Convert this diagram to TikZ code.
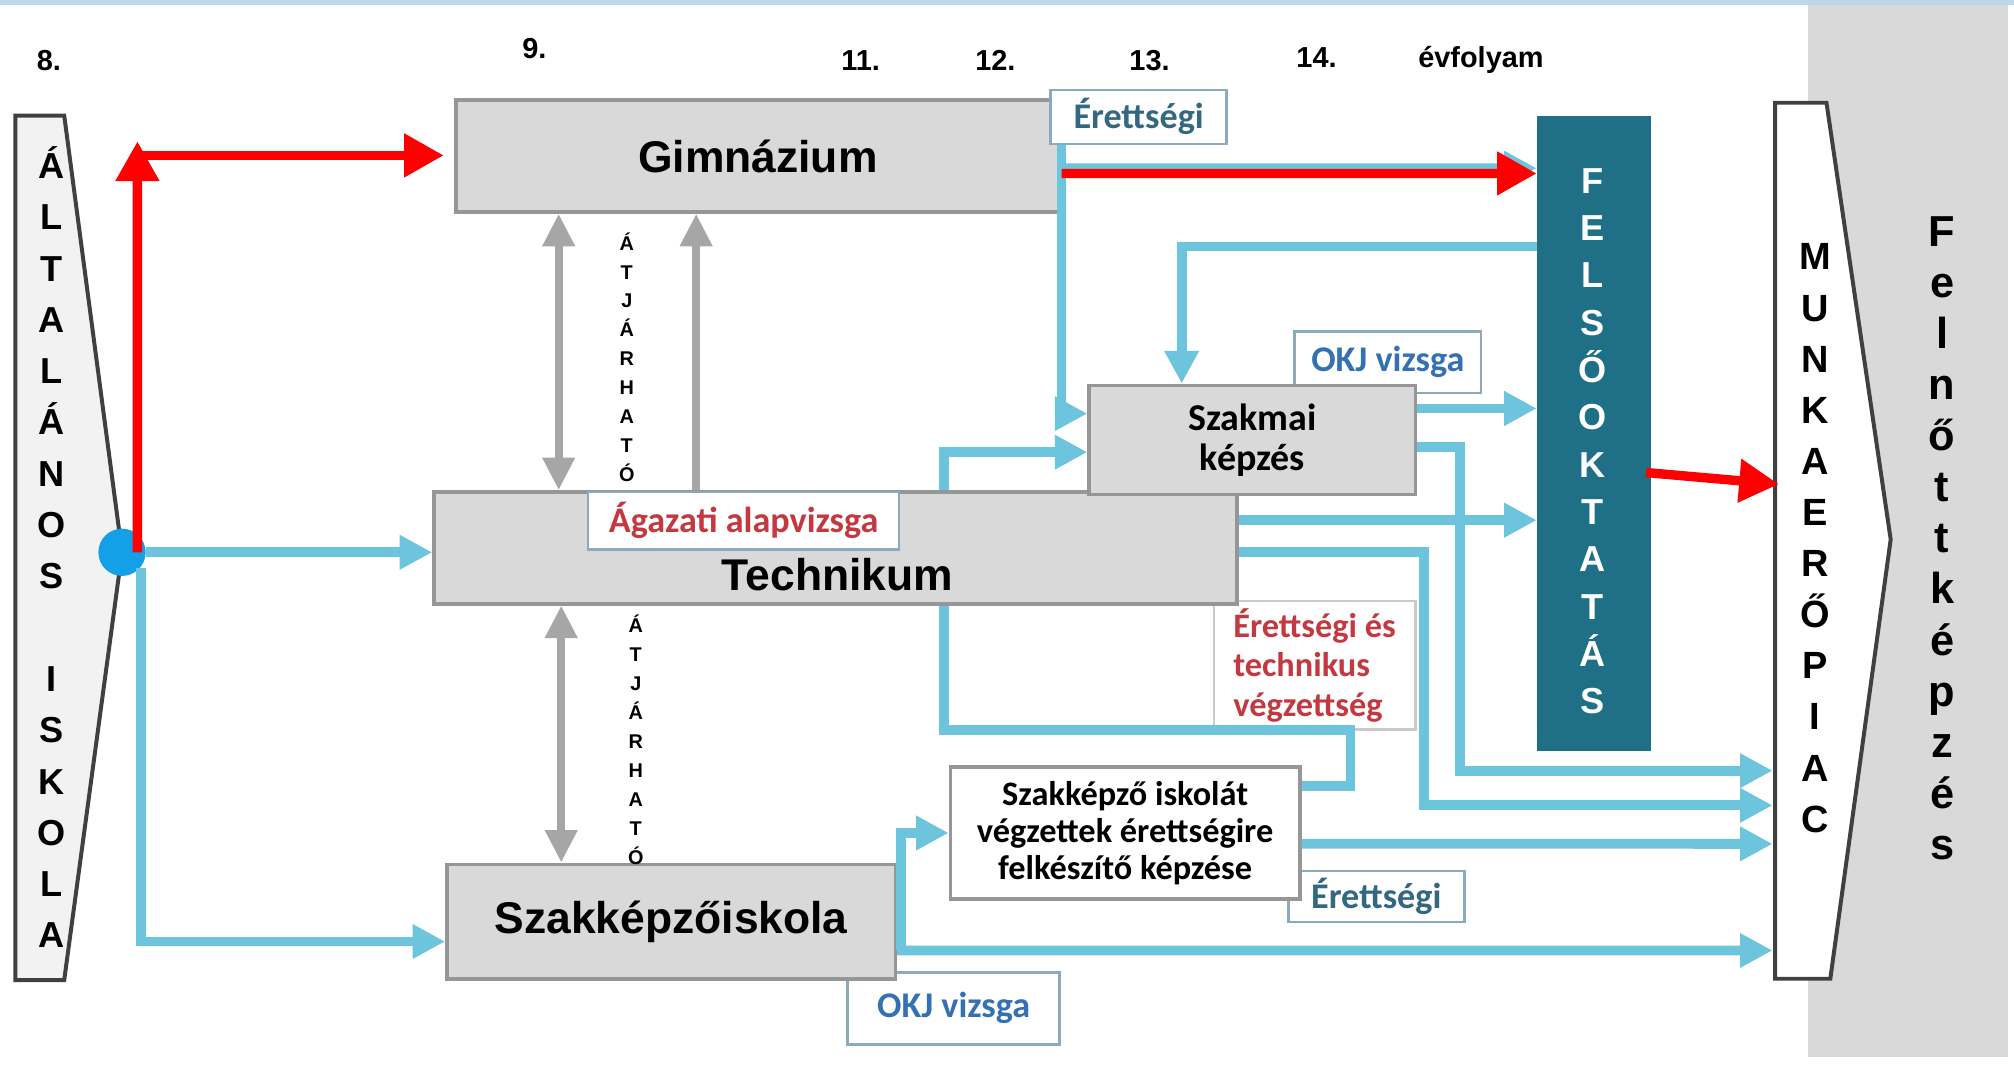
\documentclass[tikz,border=0pt]{standalone}
\usepackage{fontspec}
\setmainfont{Liberation Sans}
\newfontfamily\calib{Carlito}
\usetikzlibrary{arrows.meta}
\definecolor{flowblue}{RGB}{108,197,221}
\definecolor{boxfill}{RGB}{217,217,217}
\definecolor{boxgray}{RGB}{150,150,150}
\definecolor{felsoteal}{RGB}{31,111,134}
\definecolor{passgray}{RGB}{166,166,166}
\definecolor{tagline}{RGB}{140,170,190}
\definecolor{tagteal}{RGB}{52,104,128}
\definecolor{okjblue}{RGB}{52,112,178}
\definecolor{tagred}{RGB}{196,57,64}
\definecolor{dotblue}{RGB}{20,160,230}
\definecolor{panelgray}{RGB}{217,217,217}
\definecolor{topband}{RGB}{189,215,238}
\definecolor{leftfill}{RGB}{242,242,242}
\definecolor{edgegray}{RGB}{64,64,64}
\begin{document}
\begin{tikzpicture}[x=0.0125cm, y=-0.0125cm,
    schoolbox/.style={draw=boxgray, fill=boxfill, line width=1pt, inner sep=0pt, font=\bfseries\fontsize{12.3}{14}\selectfont},
    tagbox/.style={draw=tagline, fill=white, line width=0.7pt, inner sep=0pt, font=\calib\bfseries\fontsize{10}{12}\selectfont},
    year/.style={font=\bfseries\fontsize{8}{9}\selectfont, inner sep=0pt},
    letters/.style={align=center, inner sep=0pt, font=\bfseries\fontsize{10}{14.2}\selectfont},
    passtext/.style={align=center, inner sep=0pt, font=\bfseries\fontsize{5.5}{8}\selectfont},
    outline/.style={draw=edgegray, line width=1.1pt, line join=miter},
    flow/.style={draw=flowblue, line width=2.7pt, -{Triangle[length=9pt,width=9pt]}},
    link/.style={draw=flowblue, line width=2.7pt},
    redarrow/.style={draw=red, line width=2.6pt, -{Triangle[length=11pt,width=11.5pt]}},
    passboth/.style={draw=passgray, line width=2.2pt, {Triangle[length=9pt,width=8.5pt]}-{Triangle[length=9pt,width=8.5pt]}},
    passup/.style={draw=passgray, line width=2.2pt, -{Triangle[length=9pt,width=8.5pt]}}]
    \useasboundingbox (0,0) rectangle (1568,839);
    \fill[panelgray] (1408,4) rectangle (1563,823);
    \fill[topband] (0,0) rectangle (1568,3.6);

    \node[year] (y8) at (38,47) {8.};
    \node[year] (y9) at (416,38) {9.};
    \node[year] (y11) at (670,47) {11.};
    \node[year] (y12) at (775,47) {12.};
    \node[year] (y13) at (895,47) {13.};
    \node[year] (y14) at (1025,45) {14.};
    \node[year] (yev) at (1153,47) {évfolyam};

    \draw[outline, fill=leftfill] (12,90) -- (50,90) -- (95,430) -- (50,763) -- (12,763) -- cycle;
    \node[letters] (altisk) at (40,426) {Á\\L\\T\\A\\L\\Á\\N\\O\\S\\[14.2pt]I\\S\\K\\O\\L\\A};
    \draw[outline, fill=white] (1382,80) -- (1422,80) -- (1472,420) -- (1425,762) -- (1382,762) -- cycle;
    \node[letters, font=\bfseries\fontsize{10.5}{14.15}\selectfont] (munkatext) at (1413,419) {M\\U\\N\\K\\A\\E\\R\\Ő\\P\\I\\A\\C};
    \node[letters, font=\bfseries\fontsize{12}{14.15}\selectfont] (felnott) at (1512,419) {F\\e\\l\\n\\ő\\t\\t\\k\\é\\p\\z\\é\\s};
    \coordinate (mp0) at (1385,377);
    \coordinate (mp1) at (1380,600);
    \coordinate (mp2) at (1380,627);
    \coordinate (mp3) at (1380,657);
    \coordinate (mp4) at (1380,740);

    \node[tagbox, text=okjblue, minimum width=1.8125cm, minimum height=0.6cm] (okj1) at (1080.5,282) {OKJ vizsga};
    \node[tagbox, text=tagteal, minimum width=1.7125cm, minimum height=0.5cm] (erett2) at (1071.5,698) {Érettségi};
    \node[tagbox, text=okjblue, minimum width=2.0625cm, minimum height=0.7cm] (okj2) at (742.5,785) {OKJ vizsga};
    \node[draw=passgray!60, fill=white, line width=0.7pt, minimum width=1.9625cm, minimum height=1.25cm, align=left, inner sep=0pt, text=tagred, font=\calib\bfseries\fontsize{9.5}{11}\selectfont] (erettes) at (1023.5,518) {Érettségi és\\technikus\\végzettség};

    \node[schoolbox, minimum width=5.875cm, minimum height=1.0875cm] (gimn) at (590,121.5) {Gimnázium};
    \node[schoolbox, minimum width=7.8125cm, minimum height=1.0875cm] (tech) at (650.5,426.5) {};
    \node[font=\bfseries\fontsize{12.3}{14}\selectfont, inner sep=0pt] (techtext) at (652,447) {Technikum};
    \node[tagbox, text=tagred, minimum width=3.025cm, minimum height=0.5625cm] (agazati) at (579,405.5) {Ágazati alapvizsga};
    \node[schoolbox, minimum width=3.175cm, minimum height=1.0625cm, align=center, font=\calib\bfseries\fontsize{10.5}{11}\selectfont] (szakmai) at (975,342.5) {Szakmai\\képzés};
    \node[schoolbox, minimum width=4.3625cm, minimum height=1.1125cm] (szakisk) at (522.5,717.5) {Szakképzőiskola};
    \node[schoolbox, fill=white, minimum width=3.4cm, minimum height=1.2875cm, align=center, font=\calib\bfseries\fontsize{9.5}{10.3}\selectfont] (erettkep) at (876,648.5) {Szakképző iskolát\\végzettek érettségire\\felkészítő képzése};
    \node[fill=felsoteal, minimum width=1.1cm, minimum height=6.1875cm, inner sep=0pt] (felso) at (1241,337.5) {};
    \node[letters, text=white, font=\bfseries\fontsize{10}{13.1}\selectfont] (felsotext) at (1240,343.5) {F\\E\\L\\S\\Ő\\O\\K\\T\\A\\T\\Á\\S};
    \node[tagbox, text=tagteal, minimum width=1.7125cm, minimum height=0.525cm] (erett1) at (886.5,91) {Érettségi};

    \node[passtext] (pass1) at (488,278) {Á\\T\\J\\Á\\R\\H\\A\\T\\Ó};
    \node[passtext] (pass2) at (495,576) {Á\\T\\J\\Á\\R\\H\\A\\T\\Ó};

    \node[circle, fill=dotblue, minimum size=4.6mm, inner sep=0pt] (dot) at (95,430) {};

    \draw[flow] (dot) -- (tech.west |- dot);
    \draw[flow] (dot.-40) |- ([yshift=-1.94mm]szakisk.west);
    \draw[flow] ([yshift=-1.19mm]gimn.east) -- ([yshift=25.81mm]felso.west);
    \draw[flow] (gimn.east |- erett1.south) |- ([yshift=2.56mm]szakmai.west);
    \draw[flow] ([yshift=18.19mm]felso.west) -| ([xshift=-6.875mm]szakmai.north);
    \draw[flow] ([xshift=10.56mm]tech.north) |- ([yshift=-1.19mm]szakmai.west);
    \draw[flow] ([yshift=3.06mm]szakmai.east) -- ([yshift=3.06mm]szakmai.east -| felso.west);
    \draw[flow] ([yshift=-0.69mm]szakmai.east) -- ++(33,0) |- (mp1);
    \draw[flow] ([yshift=2.69mm]tech.east) -- ([yshift=2.69mm]tech.east -| felso.west);
    \draw[flow] ([yshift=-0.44mm]tech.east) -- ++(144,0) |- (mp2);
    \draw[link] ([xshift=10.56mm]tech.south) -- ++(0,97) -| ([xshift=4.75mm, yshift=4.56mm]erettkep.east) -- ([yshift=4.56mm]erettkep.east);
    \draw[flow] ([yshift=-2.81mm]szakisk.east) -- (mp4);
    \draw[flow] ([xshift=0.4mm, yshift=-2.81mm]szakisk.east) |- (erettkep.west);
    \draw[flow] ([yshift=-1.06mm]erettkep.east) -- (mp3);

    \draw[passboth] ([xshift=-19.375mm]gimn.south) -- ([xshift=-19.375mm]gimn.south |- tech.north);
    \draw[passup] ([xshift=-6mm]gimn.south |- tech.north) -- ([xshift=-6mm]gimn.south);
    \draw[passboth] ([xshift=-26.69mm]tech.south) -- ([xshift=-26.69mm]tech.south |- szakisk.north);

    \coordinate (rtop) at (107,110);
    \coordinate (rcorner) at (105,121);
    \draw[redarrow] ([xshift=1.5mm]dot.center) -- (rtop);
    \draw[redarrow] (rcorner) -- ([xshift=-1mm]gimn.west |- rcorner);
    \draw[redarrow] ([yshift=-1.7mm]gimn.east) -- ([yshift=25.3mm]felso.west);
    \draw[redarrow] ([xshift=-0.5mm, yshift=-3.8mm]felso.east) -- (mp0);
\end{tikzpicture}
\end{document}
